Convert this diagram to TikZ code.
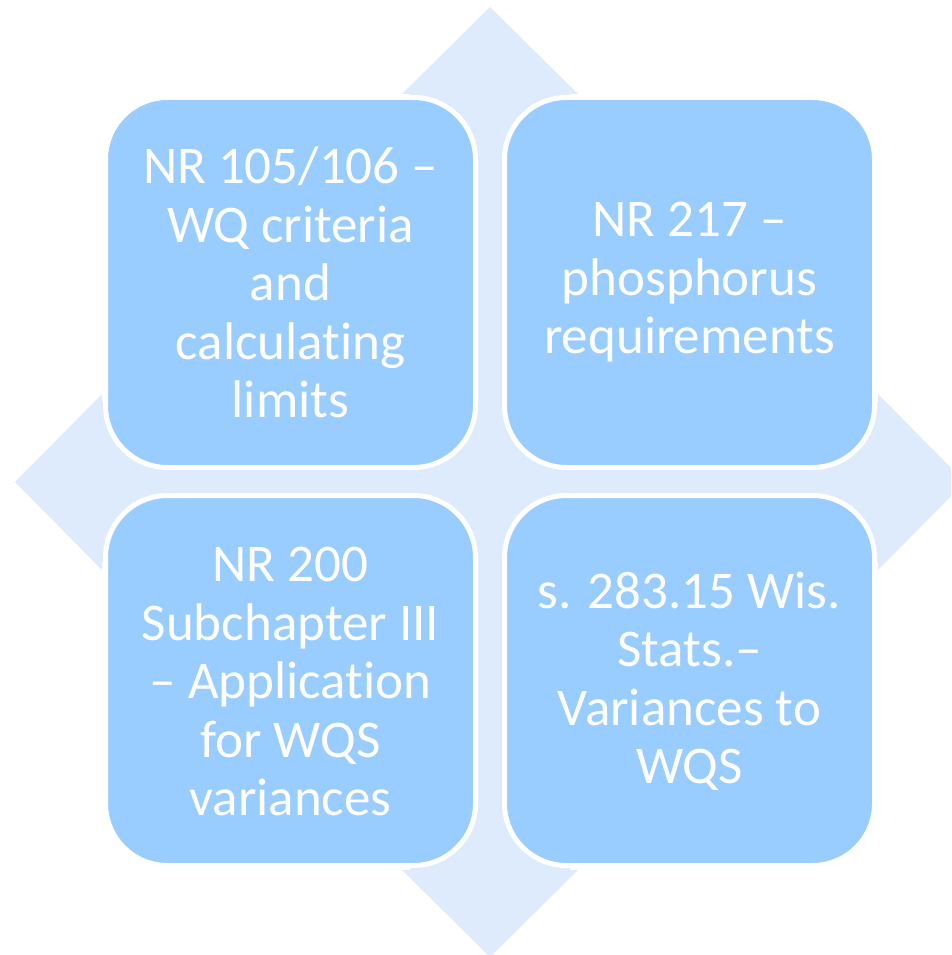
\documentclass[tikz,border=0pt]{standalone}
\usepackage{fontspec}
\setmainfont[Ligatures={NoCommon}]{Carlito}
\definecolor{boxblue}{RGB}{153,204,255}
\definecolor{arrowblue}{RGB}{221,235,252}
\begin{document}
\begin{tikzpicture}[x=1pt,y=-1pt,
  quadbox/.style={draw=white, line width=5pt, fill=boxblue, rounded corners=62pt,
    minimum width=370pt, minimum height=370pt, inner sep=0pt},
  boxtext/.style={text=white, align=center, font=\fontsize{53}{58.5}\selectfont, inner sep=0pt}]
\useasboundingbox (0,0) rectangle (951,955);
\clip (0,0) rectangle (951,955);
% background quad arrow
\def\L{475}\def\B{388}\def\H{88}\def\S{80}
\coordinate (c) at (490,482);
\fill[arrowblue, shift={(c)}]
  (0,-\L) -- (\H,-\B) -- (\S,-\B) -- (\S,-\S) -- (\B,-\S) -- (\B,-\H) -- (\L,0)
  -- (\B,\H) -- (\B,\S) -- (\S,\S) -- (\S,\B) -- (\H,\B) -- (0,\L)
  -- (-\H,\B) -- (-\S,\B) -- (-\S,\S) -- (-\B,\S) -- (-\B,\H) -- (-\L,0)
  -- (-\B,-\H) -- (-\B,-\S) -- (-\S,-\S) -- (-\S,-\B) -- (-\H,-\B) -- cycle;
% boxes
\node[quadbox] (tl) at (290.5,282.5) {};
\node[quadbox] (tr) at (689.5,282.5) {};
\node[quadbox] (bl) at (290.5,680.5) {};
\node[quadbox] (br) at (689.5,680.5) {};
% texts
\node[boxtext] (tlt) at (290.5,282.5) {NR 105/106 –\\WQ criteria\\and\\calculating\\limits};
\node[boxtext] (trt) at (689.5,282.5) {NR 217 –\\phosphorus\\requirements};
\node[boxtext] (blt) at (290.5,681.5) {NR 200\\Subchapter III\\– Application\\for WQS\\variances};
\node[boxtext] (brt) at (689.5,681.5) {s. 283.15 Wis.\\Stats.–\\Variances to\\WQS};
\end{tikzpicture}
\end{document}
